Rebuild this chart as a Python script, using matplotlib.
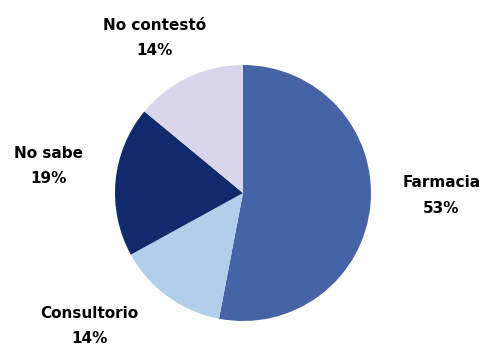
import matplotlib
matplotlib.use('Agg')
from matplotlib import pyplot as plt

# Data
categories = ['Farmacia', 'Consultorio', 'No sabe', 'No contestó']
percentages = [53, 14, 19, 14]
colors = ['#4663a6', '#afcfea', '#112a6c', '#d9d6eb']

# label anchor points (data units, pie radius = 1)
label_pos = [(1.55, -0.02), (-1.20, -1.04), (-1.52, 0.21), (-0.69, 1.21)]

fig = plt.figure(figsize=(4.84, 3.49), dpi=100)
ax = fig.add_axes([(243 - 128) / 484, (349 - 193 - 128) / 349, 256 / 484, 256 / 349])

ax.pie(percentages, colors=colors, startangle=90, counterclock=False,
       radius=1, wedgeprops={'linewidth': 0})
ax.set_xlim(-1, 1)
ax.set_ylim(-1, 1)
ax.set_aspect('auto')
ax.axis('off')

for name, pct, (x, y) in zip(categories, percentages, label_pos):
    ax.text(x, y, name + '\n' + str(pct) + '%', ha='center', va='center',
            fontsize=11, fontweight='bold', linespacing=1.85, clip_on=False)

fig.savefig('out.png', dpi=100)
